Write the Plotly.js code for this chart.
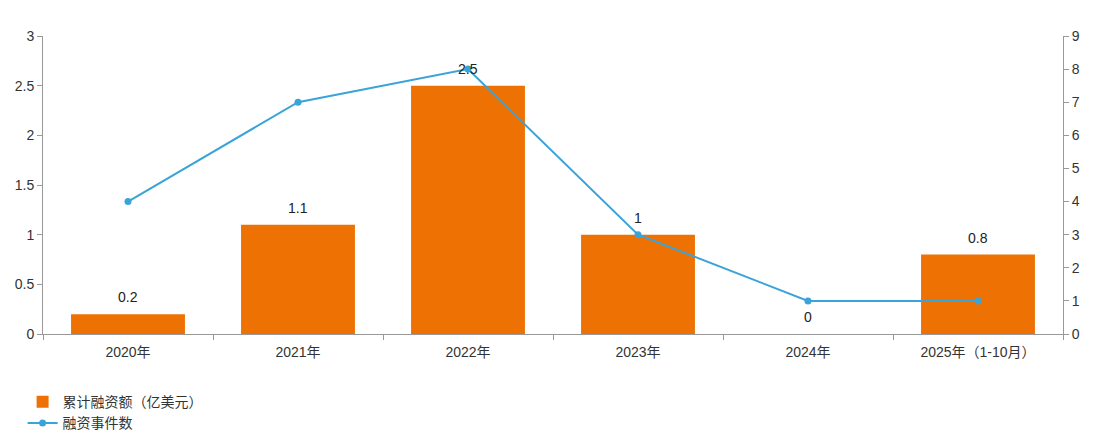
<!DOCTYPE html>
<html><head><meta charset="utf-8">
<script src="https://cdn.plot.ly/plotly-3.0.1.min.js"></script>
<style>html,body{margin:0;padding:0;background:#fff}#c{width:1106px;height:441px}</style>
</head><body><div id="c"></div>
<script>
const categories = ["2020年","2021年","2022年","2023年","2024年","2025年（1-10月）"];
const amounts = [0.2, 1.1, 2.5, 1, 0, 0.8];
const counts = [4, 7, 8, 3, 1, 1];
const amountLabels = ["0.2","1.1","2.5","1","0","0.8"];
const font = "Liberation Sans, Arial, Noto Sans CJK SC, sans-serif";

const traces = [
  {type:'bar', name:'累计融资额（亿美元）', x:categories, y:amounts,
   marker:{color:'#EE7203'}, hoverinfo:'skip'},
  {type:'scatter', mode:'lines+markers', name:'融资事件数', x:categories, y:counts, yaxis:'y2',
   line:{color:'#3AA3D8', width:2}, marker:{color:'#3AA3D8', size:7}, cliponaxis:false}
];
const annotations = categories.map((c, i) => ({
  x: c, y: amounts[i], xref:'x', yref:'y', text: amountLabels[i], showarrow:false,
  yanchor:'bottom', yshift:7, font:{size:14, color:'#222', family:font}
}));
const layout = {
  width:1106, height:441,
  margin:{l:43, r:43, t:36, b:107, autoexpand:false},
  paper_bgcolor:'#fff', plot_bgcolor:'#fff',
  font:{family:font, size:14, color:'#333'},
  bargap:0.33,
  annotations: annotations,
  xaxis:{type:'category', showline:true, linecolor:'#999', linewidth:1, ticks:'outside', tickson:'boundaries',
    ticklen:5, tickcolor:'#999', showgrid:false, tickfont:{size:14,color:'#333'}, ticklabelstandoff:5, automargin:false},
  yaxis:{range:[0,3], dtick:0.5, showline:true, linecolor:'#999', ticks:'outside', ticklen:5, tickcolor:'#999',
    showgrid:false, zeroline:false, tickfont:{size:14,color:'#333'}, automargin:false},
  yaxis2:{range:[0,9], dtick:1, overlaying:'y', side:'right', showline:true, linecolor:'#999', ticks:'outside',
    ticklen:5, tickcolor:'#999', showgrid:false, zeroline:false, tickfont:{size:14,color:'#333'}, automargin:false},
  showlegend:true,
  legend:{orientation:'v', x:-0.02, y:-0.175, xanchor:'left', yanchor:'top',
    font:{size:14,color:'#333'}, tracegroupgap:0, itemwidth:30}
};
Plotly.newPlot('c', traces, layout, {displayModeBar:false, staticPlot:true});
</script></body></html>
